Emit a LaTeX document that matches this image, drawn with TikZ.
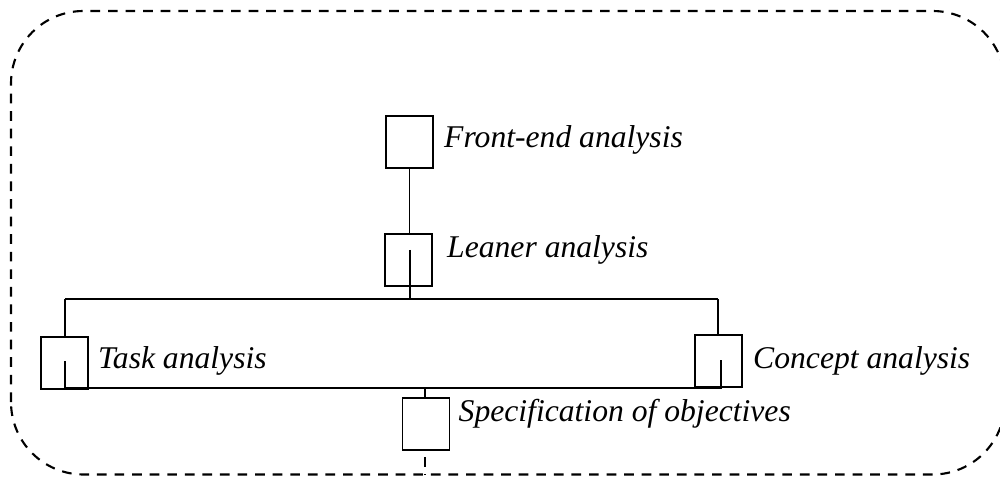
\documentclass[tikz,border=0pt]{standalone}
\usepackage{fontspec}
\setmainfont{Liberation Serif}
\usepackage{tikz}
\usetikzlibrary{positioning}
\tikzstyle{stage} = [rectangle, draw=black, line width=1pt, minimum width=0.94cm, minimum height=1.04cm, inner sep=0pt]
\tikzstyle{stagetext} = [inner sep=0pt, font=\fontsize{18}{20}\selectfont\itshape]
\tikzstyle{link} = [line width=1pt, color=black]
\tikzstyle{frame} = [line width=1.2pt, dash pattern=on 5.5pt off 4.5pt]

\begin{document}
\begin{tikzpicture}
\useasboundingbox (0,0) rectangle (20,9.52);
\clip (0,0) rectangle (20,9.52);
% outer frame
\draw[frame, rounded corners=1.45cm] (0.22,0.03) rectangle (20.1,9.3);

% stages
\node (front) [stage] at (8.19,6.68) {};
\node (leaner) [stage] at (8.17,4.32) {};
\node (task) [stage] at (1.29,2.26) {};
\node (concept) [stage] at (14.37,2.3) {};
\node (spec) [stage] at (8.52,1.04) {};

\node (frontlbl) [stagetext, right=0.2cm of front, yshift=0.04cm] {Front-end analysis};
\node (leanerlbl) [stagetext, right=0.28cm of leaner, yshift=0.2cm] {Leaner analysis};
\node (tasklbl) [stagetext, right=0.18cm of task, yshift=0.04cm] {Task analysis};
\node (conceptlbl) [stagetext, right=0.2cm of concept] {Concept analysis};
\node (speclbl) [stagetext, right=0.16cm of spec, yshift=0.2cm] {Specification of objectives};

% branch points
\coordinate (topleft) at (1.3,3.54);
\coordinate (topmid) at (8.2,3.54);
\coordinate (topright) at (14.36,3.54);
\coordinate (botleft) at (1.3,1.76);
\coordinate (botmid) at (8.5,1.76);
\coordinate (botright) at (14.42,1.76);
\coordinate (leanerin) at (8.2,4.52);
\coordinate (taskin) at (1.3,2.3);
\coordinate (conceptin) at (14.42,2.32);
\coordinate (tail) at (8.5,0.03);

\draw[link] (front.south) -- (front.south |- leaner.north);
\draw[link] (leanerin) -- (topmid);
\draw[link] (topleft) -- (topright);
\draw[link] (topleft) -- (task.north -| topleft);
\draw[link] (topright) -- (concept.north -| topright);
\draw[link] (taskin) -- (botleft) -- (botright) -- (conceptin);
\draw[link] (botmid) -- (spec.north -| botmid);
\draw[frame] (spec.south -| botmid) ++(0,-0.12) -- (tail);
\end{tikzpicture}
\end{document}
